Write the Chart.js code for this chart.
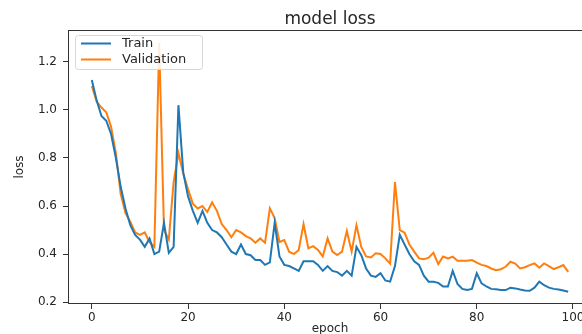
<!DOCTYPE html>
<html>
<head>
<meta charset="utf-8">
<script src="https://cdn.jsdelivr.net/npm/chart.js@4.4.1/dist/chart.umd.min.js"></script>
<style>
  html, body { margin: 0; padding: 0; background: #fff; overflow: hidden; }
  #wrap { position: absolute; left: 0; top: 0; width: 660px; height: 340px; }
</style>
</head>
<body>
<div id="wrap"><canvas id="loss-chart" width="660" height="340"></canvas></div>
<script>
// epochs 0..99
const epochs = [
  0, 1, 2, 3, 4, 5, 6, 7, 8, 9, 10, 11, 12, 13, 14, 15, 16, 17, 18, 19,
  20, 21, 22, 23, 24, 25, 26, 27, 28, 29, 30, 31, 32, 33, 34, 35, 36, 37, 38, 39,
  40, 41, 42, 43, 44, 45, 46, 47, 48, 49, 50, 51, 52, 53, 54, 55, 56, 57, 58, 59,
  60, 61, 62, 63, 64, 65, 66, 67, 68, 69, 70, 71, 72, 73, 74, 75, 76, 77, 78, 79,
  80, 81, 82, 83, 84, 85, 86, 87, 88, 89, 90, 91, 92, 93, 94, 95, 96, 97, 98, 99
];

const trainLoss = [
  1.125, 1.04, 0.975, 0.955, 0.90, 0.80, 0.68, 0.59, 0.52, 0.48,
  0.46, 0.43, 0.465, 0.40, 0.41, 0.53, 0.405, 0.43, 1.02, 0.74,
  0.64, 0.58, 0.53, 0.58, 0.53, 0.50, 0.49, 0.47, 0.44, 0.41,
  0.40, 0.44, 0.40, 0.395, 0.375, 0.375, 0.355, 0.365, 0.53, 0.39,
  0.355, 0.35, 0.34, 0.33, 0.37, 0.37, 0.37, 0.355, 0.33, 0.35,
  0.33, 0.325, 0.31, 0.33, 0.31, 0.43, 0.395, 0.34, 0.31, 0.305,
  0.32, 0.29, 0.285, 0.35, 0.48, 0.44, 0.40, 0.37, 0.355, 0.31,
  0.285, 0.285, 0.28, 0.265, 0.265, 0.33, 0.275, 0.255, 0.25, 0.255,
  0.32, 0.278, 0.265, 0.255, 0.253, 0.25, 0.25, 0.26, 0.257, 0.252,
  0.248, 0.247, 0.26, 0.285, 0.27, 0.26, 0.255, 0.252, 0.248, 0.243
];

const valLoss = [
  1.10, 1.035, 1.01, 0.99, 0.93, 0.82, 0.65, 0.57, 0.535, 0.49,
  0.48, 0.49, 0.45, 0.43, 1.28, 0.50, 0.46, 0.70, 0.82, 0.735,
  0.67, 0.61, 0.59, 0.60, 0.575, 0.615, 0.58, 0.525, 0.50, 0.47,
  0.50, 0.49, 0.475, 0.465, 0.447, 0.465, 0.447, 0.59, 0.55, 0.45,
  0.458, 0.41, 0.40, 0.417, 0.525, 0.424, 0.433, 0.417, 0.39, 0.465,
  0.41, 0.396, 0.41, 0.496, 0.41, 0.52, 0.43, 0.39, 0.386, 0.403,
  0.40, 0.382, 0.36, 0.70, 0.50, 0.489, 0.44, 0.41, 0.382, 0.378,
  0.385, 0.405, 0.358, 0.39, 0.382, 0.389, 0.372, 0.372, 0.372, 0.375,
  0.364, 0.355, 0.35, 0.34, 0.333, 0.337, 0.347, 0.368, 0.36, 0.34,
  0.345, 0.354, 0.361, 0.343, 0.361, 0.35, 0.3375, 0.345, 0.354, 0.326
];

const xTicks = [0, 20, 40, 60, 80, 100];
const yTicks = [0.2, 0.4, 0.6, 0.8, 1.0, 1.2];

const FONT = 'DejaVu Sans';
const INK = '#262626';

//axes box + legend drawn the matplotlib way
const mplFrame = {
  id: 'mplFrame',
  afterDraw(chart) {
    const { ctx, chartArea: a } = chart;
    ctx.save();
    ctx.strokeStyle = '#333';
    ctx.lineWidth = 1;
    ctx.strokeRect(Math.round(a.left) + 0.5, Math.round(a.top) + 0.5,
      Math.round(a.right - a.left), Math.round(a.bottom - a.top) - 1);

    const bx = a.left + 7, by = a.top + 5, bw = 127, bh = 34;
    ctx.beginPath();
    ctx.roundRect(bx + 0.5, by + 0.5, bw, bh, 3);
    ctx.fillStyle = 'rgba(255,255,255,0.85)';
    ctx.fill();
    ctx.strokeStyle = '#d6d6d6';
    ctx.stroke();

    ctx.font = '13px "' + FONT + '"';
    ctx.textBaseline = 'middle';
    chart.data.datasets.forEach((ds, i) => {
      const ry = by + 8.5 + i * 16;
      ctx.beginPath();
      ctx.moveTo(bx + 6, ry);
      ctx.lineTo(bx + 36, ry);
      ctx.strokeStyle = ds.borderColor;
      ctx.lineWidth = ds.borderWidth;
      ctx.stroke();
      ctx.fillStyle = INK;
      ctx.fillText(ds.label, bx + 47, ry);
    });
    ctx.restore();
  }
};

const ctx = document.getElementById('loss-chart').getContext('2d');
new Chart(ctx, {
  type: 'line',
  data: {
    datasets: [
      {
        label: 'Train',
        data: epochs.map((e, i) => ({ x: e, y: trainLoss[i] })),
        borderColor: '#1f77b4',
        borderWidth: 2,
        pointRadius: 0,
        tension: 0
      },
      {
        label: 'Validation',
        data: epochs.map((e, i) => ({ x: e, y: valLoss[i] })),
        borderColor: '#ff7f0e',
        borderWidth: 2,
        pointRadius: 0,
        tension: 0
      }
    ]
  },
  options: {
    responsive: false,
    animation: false,
    devicePixelRatio: 1,
    layout: { padding: 0 },
    plugins: {
      legend: { display: false },
      tooltip: { enabled: false },
      title: {
        display: true,
        text: 'model loss',
        color: INK,
        font: { family: FONT, size: 17, weight: 'normal' },
        padding: { top: 9, bottom: 0.6 }
      }
    },
    scales: {
      x: {
        type: 'linear',
        min: -4.95,
        max: 103.95,
        afterFit: (s) => { s.height = 36; },
        afterBuildTicks: (s) => { s.ticks = xTicks.map(v => ({ value: v })); },
        border: { display: false },
        grid: { drawOnChartArea: false, drawTicks: true, tickLength: 5, tickColor: '#333' },
        ticks: { color: INK, font: { family: FONT, size: 12 }, padding: 2, maxRotation: 0,
          callback: (v) => String(v) },
        title: { display: true, text: 'epoch', color: INK,
          font: { family: FONT, size: 12 }, padding: { top: 0, bottom: 4 } }
      },
      y: {
        min: 0.192,
        max: 1.333,
        afterFit: (s) => { s.width = 68; },
        afterBuildTicks: (s) => { s.ticks = yTicks.map(v => ({ value: v })); },
        border: { display: false },
        grid: { drawOnChartArea: false, drawTicks: true, tickLength: 5, tickColor: '#333' },
        ticks: { color: INK, font: { family: FONT, size: 12 }, padding: 6,
          callback: (v) => v.toFixed(1) },
        title: { display: true, text: 'loss', color: INK,
          font: { family: FONT, size: 12 }, padding: { top: 13, bottom: 0 } }
      },
      // empty right-hand axis: keeps the plot box symmetric so the title centres like matplotlib
      yRight: {
        position: 'right',
        min: 0.192,
        max: 1.333,
        afterFit: (s) => { s.width = 68; },
        border: { display: false },
        grid: { display: false },
        ticks: { display: false }
      }
    }
  },
  plugins: [mplFrame]
});
</script>
</body>
</html>
